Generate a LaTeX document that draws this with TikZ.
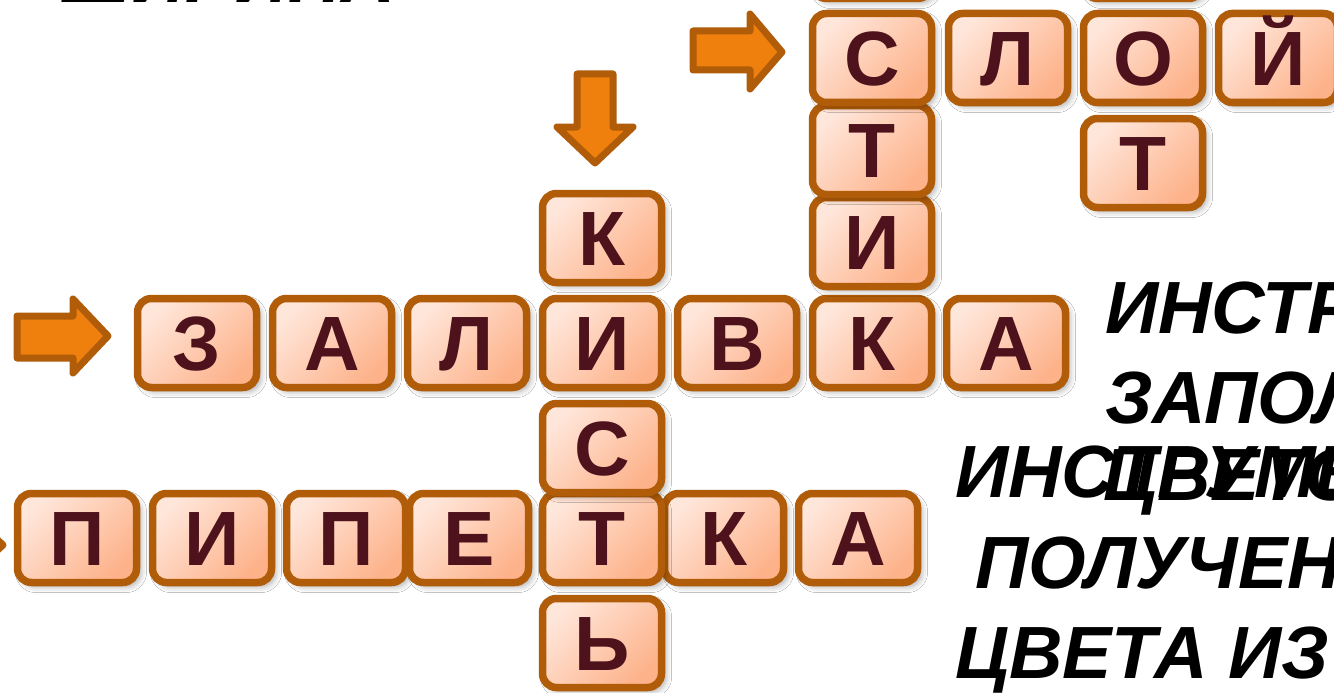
\documentclass[tikz,border=0pt]{standalone}
\usepackage{fontspec}
\setmainfont{Liberation Sans}
\usetikzlibrary{shadows.blur}
\definecolor{tileborder}{HTML}{B05C08}
\definecolor{tilelight}{HTML}{FFE6DA}
\definecolor{tiledark}{HTML}{FDB28A}
\definecolor{lettercol}{HTML}{4E121C}
\definecolor{arrowfill}{HTML}{EF800E}
\tikzset{
 tile/.style={draw=tileborder, line width=7.5pt, rounded corners=14pt,
   minimum width=119pt, minimum height=89pt, inner sep=0pt,
   top color=tilelight, bottom color=tiledark, shading angle=45,
   blur shadow={shadow xshift=4pt, shadow yshift=-4pt, shadow blur radius=6pt, shadow opacity=35},
   text=lettercol, text height=55pt, text depth=0pt,
   font=\fontsize{77}{77}\selectfont\bfseries},
 arr/.style={draw=tileborder, fill=arrowfill, line width=7pt, line join=round},
 clue/.style={anchor=base west, inner sep=0pt, text=black,
   font=\fontsize{74}{74}\selectfont\bfseries\itshape}
}
\begin{document}
\begin{tikzpicture}[x=1pt,y=-1pt]
\useasboundingbox (0,0) rectangle (1334,693);
\clip (0,0) rectangle (1334,693);
\fill[white] (0,0) rectangle (1334,693);
% bottom column tile
\node[tile] (b5) at (602,643) {Ь};
% ПИПЕТКА row
\node[tile] (p1) at (77,538) {П};
\node[tile] (p2) at (212,538) {И};
\node[tile] (p3) at (346,538) {П};
\node[tile] (p4) at (469,538) {Е};
\node[tile] (p7) at (858,538) {А};
\node[tile] (p6) at (724,538) {К};
\node[tile] (p5) at (602,538) {Т};
\node[tile] (b3) at (602,448) {С};
% ЗАЛИВКА row
\node[tile] (z1) at (197,343) {З};
\node[tile] (z2) at (332,343) {А};
\node[tile] (z3) at (467,343) {Л};
\node[tile] (z4) at (602,343) {И};
\node[tile] (z5) at (737,343) {В};
\node[tile] (z6) at (872,343) {К};
\node[tile] (z7) at (1006,343) {А};
\node[tile] (b1) at (602,238) {К};
\node[tile] (l5) at (872,242) {И};
\node[tile] (o3) at (1143,163) {Т};
\node[tile] (l4) at (872,150) {Т};
% СЛОЙ row
\node[tile] (s1) at (872,58) {С};
\node[tile] (s2) at (1008,58) {Л};
\node[tile] (s3) at (1143,58) {О};
\node[tile] (s4) at (1278,58) {Й};
\node[tile] (l2) at (872,-46) {};
\node[tile] (o1) at (1143,-46) {};
% arrows
\draw[arr] (693,31) -- (750,31) -- (750,14) -- (782,52) -- (750,89) -- (750,70) -- (693,70) -- cycle;
\draw[arr] (17,316) -- (73,316) -- (73,299) -- (108,336) -- (73,373) -- (73,358) -- (17,358) -- cycle;
\draw[arr] (577,74) -- (613,74) -- (613,127) -- (633,127) -- (595,163) -- (557,127) -- (577,127) -- cycle;
\draw[arr] (-100,525) -- (-40,525) -- (-40,505) -- (3,545) -- (-40,585) -- (-40,565) -- (-100,565) -- cycle;
% clues
\node[clue] (c0) at (60,3) {ШИРИНА};
\node[clue] (c1) at (1105,333) {ИНСТРУ};
\node[clue] (c2) at (1105,423) {ЗАПОЛН};
\node[clue] (c4) at (955,497) {ИНСТРУМЕ};
\node[clue] (c3) at (1103,500) {ЦВЕТОМ};
\node[clue] (c5) at (975,588) {ПОЛУЧЕНИ};
\node[clue] (c6) at (955,678) {ЦВЕТА ИЗ};
\end{tikzpicture}
\end{document}
